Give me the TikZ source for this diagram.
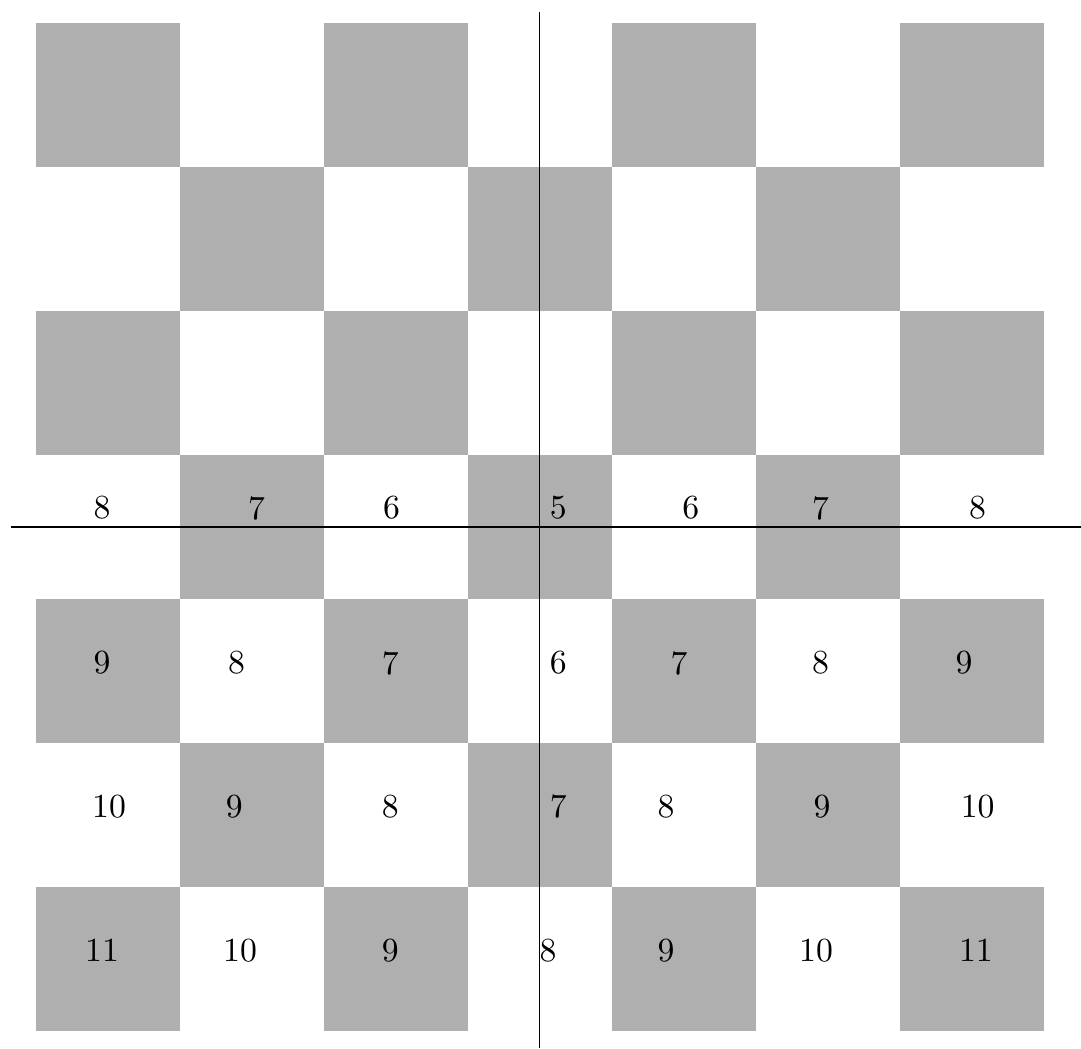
\documentclass[tikz,border=0pt]{standalone}
\definecolor{sq}{RGB}{175,175,175}
\begin{document}
\begin{tikzpicture}[x=1.5cm,y=1.5cm,
  cell/.style={fill=sq},
  num/.style={inner sep=0pt}]
\useasboundingbox (-3.747,-3.618) rectangle (3.760,3.660);
% checkerboard
\foreach \i in {-3,...,3}{
  \foreach \j in {-3,...,3}{
    \pgfmathtruncatemacro{\s}{mod(\i+\j+12,2)}
    \ifnum\s=0
      \fill[cell] (\i-0.5,\j-0.5) rectangle (\i+0.5,\j+0.5);
    \fi
  }
}
% axes
\coordinate (vt) at (0,3.58);
\coordinate (vb) at (0,-3.62);
\coordinate (hl) at (-3.67,0);
\coordinate (hr) at (3.76,0);
\draw (vt) -- (vb);
\draw (hl) -- (hr);
% row 0
\node[num] (a1) at (-3.038,0.132) {8};
\node[num] (a2) at (-1.965,0.132) {7};
\node[num] (a3) at (-1.027,0.132) {6};
\node[num] (a4) at (0.131,0.132) {5};
\node[num] (a5) at (1.051,0.132) {6};
\node[num] (a6) at (1.951,0.132) {7};
\node[num] (a7) at (3.042,0.132) {8};
% row -1
\node[num] (b1) at (-3.038,-0.944) {9};
\node[num] (b2) at (-2.104,-0.944) {8};
\node[num] (b3) at (-1.037,-0.944) {7};
\node[num] (b4) at (0.131,-0.944) {6};
\node[num] (b5) at (0.969,-0.944) {7};
\node[num] (b6) at (1.951,-0.944) {8};
\node[num] (b7) at (2.947,-0.944) {9};
% row -2
\node[num] (c1) at (-2.99,-1.942) {10};
\node[num] (c2) at (-2.119,-1.942) {9};
\node[num] (c3) at (-1.037,-1.942) {8};
\node[num] (c4) at (0.131,-1.942) {7};
\node[num] (c5) at (0.878,-1.942) {8};
\node[num] (c6) at (1.961,-1.942) {9};
\node[num] (c7) at (3.042,-1.942) {10};
% row -3
\node[num] (d1) at (-3.038,-2.94) {11};
\node[num] (d2) at (-2.08,-2.94) {10};
\node[num] (d3) at (-1.037,-2.94) {9};
\node[num] (d4) at (0.059,-2.94) {8};
\node[num] (d5) at (0.878,-2.94) {9};
\node[num] (d6) at (1.92,-2.94) {10};
\node[num] (d7) at (3.03,-2.94) {11};
\end{tikzpicture}
\end{document}
